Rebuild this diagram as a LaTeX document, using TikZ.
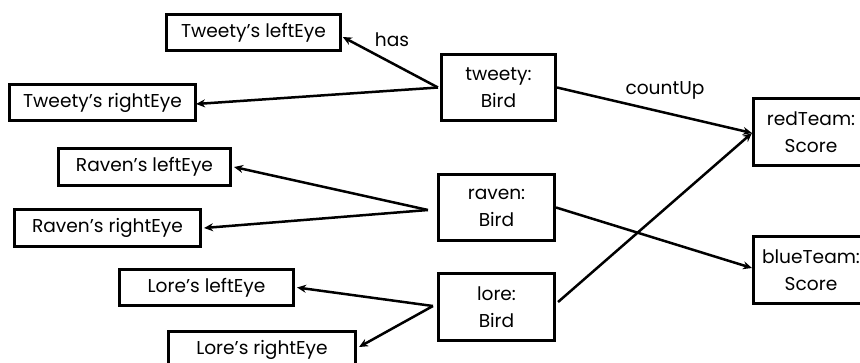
\documentclass[tikz,border=0pt]{standalone}
\usepackage{fontspec}
\setmainfont{Poppins}
\usetikzlibrary{arrows.meta}
\begin{document}
\begin{tikzpicture}[x=1pt,y=-1pt,
  box/.style={draw, line width=2.6pt, inner sep=0pt, align=center,
    font=\fontsize{18.6}{27}\selectfont},
  lbl/.style={inner sep=0pt, font=\fontsize{18.6}{22}\selectfont},
  link/.style={line width=2.5pt, -{Stealth[length=9pt,width=8pt]}}]
\useasboundingbox (0,0) rectangle (860,362);
\clip (0,0) rectangle (860,362);
\node[box, minimum width=174pt, minimum height=36.5pt] (tl) at (253.5,32.5) {Tweety’s leftEye};
\node[box, minimum width=186.5pt, minimum height=36.5pt] (tr) at (102.5,102.5) {Tweety’s rightEye};
\node[box, minimum width=114.5pt, minimum height=66.5pt] (tw) at (498.5,87.5) {tweety:\\Bird};
\node[box, minimum width=172.5pt, minimum height=37.5pt] (rl) at (144.5,167) {Raven’s leftEye};
\node[box, minimum width=186.5pt, minimum height=37.5pt] (rr) at (107.5,228) {Raven’s rightEye};
\node[box, minimum width=116.5pt, minimum height=66.5pt] (rv) at (496.5,207.5) {raven:\\Bird};
\node[box, minimum width=174.5pt, minimum height=36.5pt] (ll) at (206.5,287.5) {Lore’s leftEye};
\node[box, minimum width=187.5pt, minimum height=36.5pt] (lr) at (262,349.5) {Lore’s rightEye};
\node[box, minimum width=116.5pt, minimum height=67.5pt] (lo) at (496.5,307) {lore:\\Bird};
\node[box, minimum width=115.5pt, minimum height=67.5pt] (red) at (811,132) {redTeam:\\Score};
\node[box, minimum width=115.5pt, minimum height=67.5pt] (blue) at (811,270) {blueTeam:\\Score};
\node[lbl] (has) at (392,40) {has};
\node[lbl] (cu) at (665,90) {countUp};
% tweety
\coordinate (twl) at ([xshift=-2pt]tw.west);
\draw[link] (twl) -- ([yshift=-4.5pt,xshift=1pt]tl.east);
\draw[link] (twl) -- ([yshift=-1.5pt,xshift=-1pt]tr.east);
\draw[link] (tw.east) -- ([yshift=-1pt]red.west);
% raven
\coordinate (rvl) at ([xshift=-9pt,yshift=-2.5pt]rv.west);
\draw[link] (rvl) -- ([xshift=2pt]rl.east);
\draw[link] (rvl) -- ([xshift=2pt]rr.east);
\draw[link] (rv.east) -- ([yshift=2pt]blue.west);
% lore
\coordinate (lol) at ([xshift=-4pt,yshift=1pt]lo.west);
\draw[link] (lol) -- ([xshift=2pt]ll.east);
\draw[link] (lol) -- ([xshift=2pt,yshift=2.5pt]lr.east);
\draw[link] ([xshift=2pt,yshift=5pt]lo.east) -- ([yshift=-1pt]red.west);
\end{tikzpicture}
\end{document}
